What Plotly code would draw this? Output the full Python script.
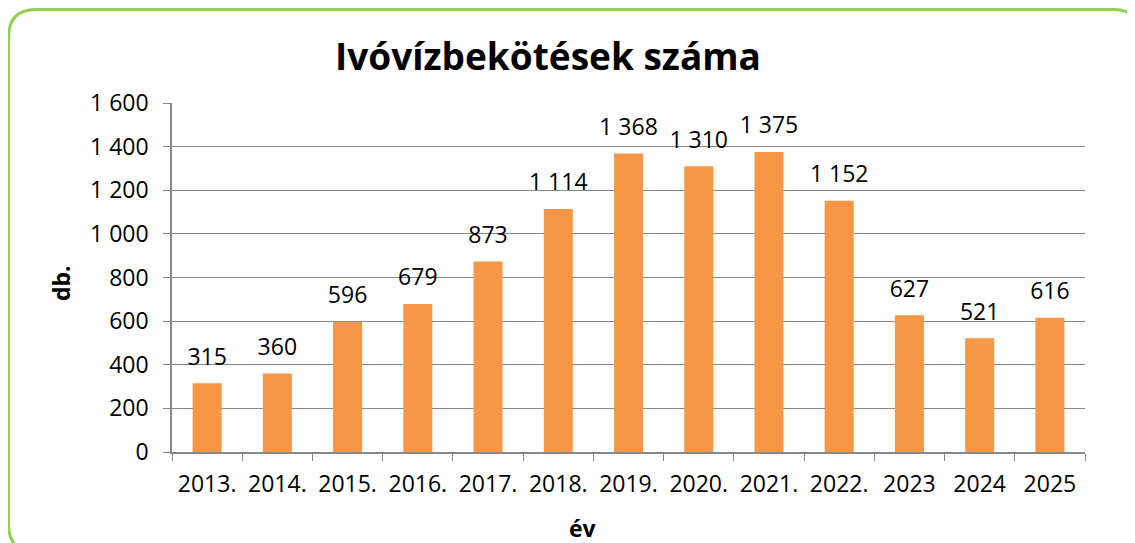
import plotly.graph_objects as go

years = ["2013.", "2014.", "2015.", "2016.", "2017.", "2018.", "2019.",
         "2020.", "2021.", "2022.", "2023", "2024", "2025"]
values = [315, 360, 596, 679, 873, 1114, 1368, 1310, 1375, 1152, 627, 521, 616]
y_ticks = [0, 200, 400, 600, 800, 1000, 1200, 1400, 1600]
y_tick_labels = ["0", "200", "400", "600", "800", "1 000", "1 200", "1 400", "1 600"]

title_text = "Ivóvízbekötések száma"
x_title = "év"
y_title = "db."

# page has an 8px body margin; work in page pixels and convert
OFF = 8
W, H = 1135 - OFF, 543 - OFF
PL, PR, PT, PB = 172, 1085, 103, 452  # plot area in page pixels
L, T = PL - OFF, PT - OFF
R = W - (PR - OFF)
B = H - (PB - OFF)
pw, ph = PR - PL, PB - PT

def px(x):
    return (x - PL) / pw

def py(y):
    return (PB - y) / ph

labels = [f"{v:,}".replace(",", " ") for v in values]
font = "Open Sans, Liberation Sans, sans-serif"
FS = 23

fig = go.Figure()
fig.add_trace(go.Bar(
    x=years, y=values, marker_color="#F79646", marker_line_width=0,
    hoverinfo="x+y",
))
fig.add_trace(go.Scatter(
    x=years, y=values, text=labels, mode="markers+text",
    textposition="top center", cliponaxis=False, hoverinfo="skip",
    marker=dict(size=19, color="rgba(0,0,0,0)"),
    textfont=dict(family=font, size=FS, color="#000000"),
))

# rounded green border (page pixels)
x0, y0, x1, y1, r = 8.5, 9.5, 1141, 552, 28
path = (f"M {px(x0+r)},{py(y0)} L {px(x1-r)},{py(y0)} "
        f"Q {px(x1)},{py(y0)} {px(x1)},{py(y0+r)} L {px(x1)},{py(y1-r)} "
        f"Q {px(x1)},{py(y1)} {px(x1-r)},{py(y1)} L {px(x0+r)},{py(y1)} "
        f"Q {px(x0)},{py(y1)} {px(x0)},{py(y1-r)} L {px(x0)},{py(y0+r)} "
        f"Q {px(x0)},{py(y0)} {px(x0+r)},{py(y0)} Z")

annotations = [
    dict(text=f"<b>{title_text}</b>", x=px(548), y=py(55), xref="paper", yref="paper",
         showarrow=False, font=dict(family=font, size=37, color="#000000"),
         xanchor="center", yanchor="middle"),
    dict(text=f"<b>{x_title}</b>", x=px(583), y=py(528), xref="paper", yref="paper",
         showarrow=False, font=dict(family=font, size=FS, color="#000000"),
         xanchor="center", yanchor="middle"),
    dict(text=f"<b>{y_title}</b>", x=px(61), y=py(283), xref="paper", yref="paper",
         showarrow=False, textangle=-90, font=dict(family=font, size=FS, color="#000000"),
         xanchor="center", yanchor="middle"),
]

fig.update_layout(
    width=W, height=H,
    margin=dict(l=L, r=R, t=T, b=B),
    plot_bgcolor="white", paper_bgcolor="white",
    bargap=0.587,
    showlegend=False,
    font=dict(family=font, size=FS, color="#000000"),
    shapes=[dict(type="path", path=path, xref="paper", yref="paper",
                 line=dict(color="#92D050", width=3), layer="below")],
    annotations=annotations,
)

fig.update_xaxes(
    type="category", categoryorder="array", categoryarray=years,
    range=[-0.5, len(years) - 0.5],
    tickson="boundaries", ticks="outside", ticklen=7,
    tickcolor="#878787", showline=True, linecolor="#878787", linewidth=1.5,
    showgrid=False, ticklabelstandoff=11, tickangle=0,
    tickfont=dict(family=font, size=FS, color="#000000"),
)
fig.update_yaxes(
    range=[0, 1600], tickvals=y_ticks, ticktext=y_tick_labels,
    ticks="outside", ticklen=7, tickcolor="#878787",
    showline=True, linecolor="#878787", linewidth=1.5, ticklabelstandoff=10,
    showgrid=True, gridcolor="#878787", gridwidth=1, zeroline=False,
    tickfont=dict(family=font, size=FS, color="#000000"),
)

fig.write_html("out.html")
